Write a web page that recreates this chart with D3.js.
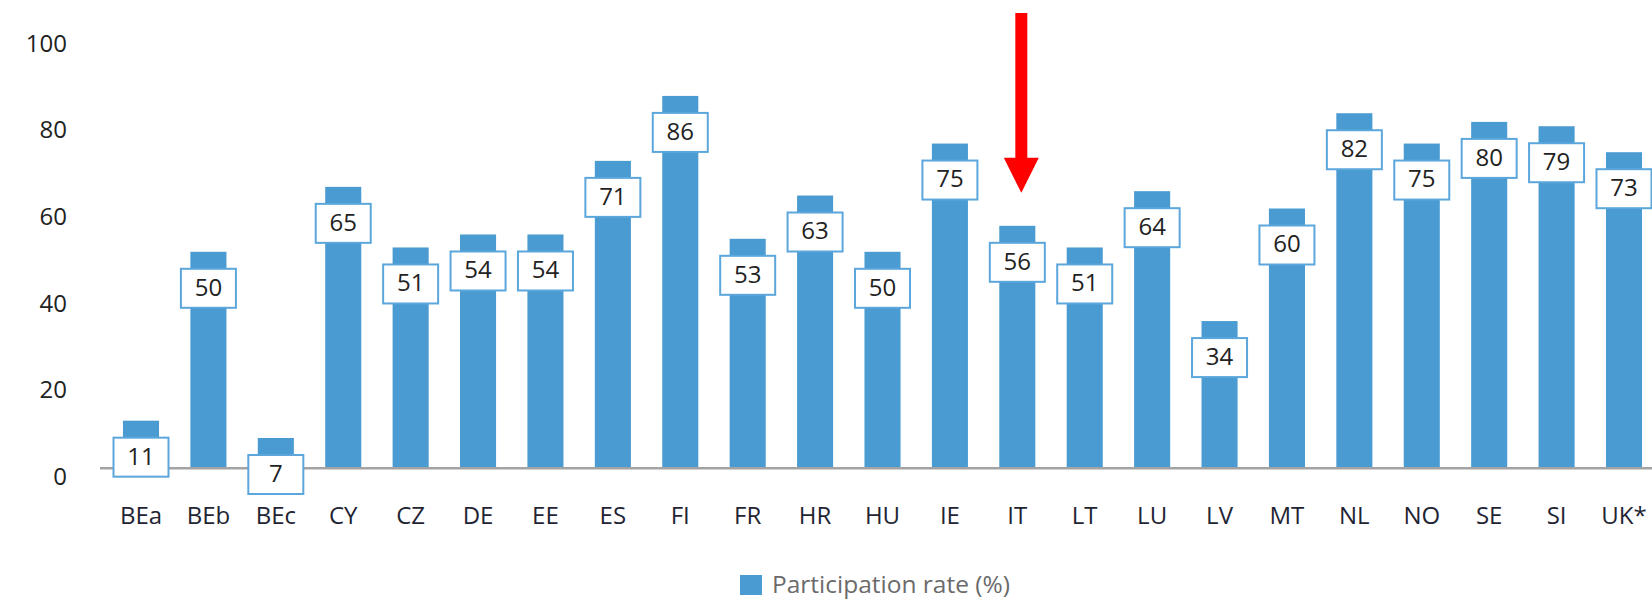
<!DOCTYPE html>
<meta charset="utf-8">
<script src="https://d3js.org/d3.v7.min.js"></script>
<style>
  body { margin: 0; background: #fff; }
  text { font-family: "Open Sans", sans-serif; }
</style>
<div id="chart"></div>
<script>
// data
const countries = ["BEa","BEb","BEc","CY","CZ","DE","EE","ES","FI","FR","HR","HU","IE","IT","LT","LU","LV","MT","NL","NO","SE","SI","UK*"];
const rates = [11, 50, 7, 65, 51, 54, 54, 71, 86, 53, 63, 50, 75, 56, 51, 64, 34, 60, 82, 75, 80, 79, 73];
const yTicks = [0, 20, 40, 60, 80, 100];
const legendLabel = "Participation rate (%)";
const highlighted = "IT";

const width = 1652, height = 601;
const barColor = "#4a9bd1";

const svg = d3.select("#chart").append("svg")
    .attr("width", width)
    .attr("height", height);

const data = countries.map((c, i) => ({country: c, value: rates[i]}));

const x = d3.scaleBand()
    .domain(countries)
    .range([107.3, 1657.7])
    .paddingInner(0.465)
    .paddingOuter(0.2325);

const y = d3.scaleLinear()
    .domain([0, 100])
    .range([468.3, 35.3]);

// y tick labels (no axis line)
svg.append("g")
  .selectAll("text")
  .data(yTicks)
  .join("text")
    .attr("x", 67)
    .attr("y", d => y(d) + 10)
    .attr("dominant-baseline", "middle")
    .attr("text-anchor", "end")
    .style("font-size", "24px")
    .style("fill", "#222")
    .text(d => d);

// bars
svg.append("g")
  .selectAll("rect")
  .data(data)
  .join("rect")
    .attr("x", d => x(d.country))
    .attr("y", d => y(d.value))
    .attr("width", x.bandwidth())
    .attr("height", d => y(0) - y(d.value))
    .attr("fill", barColor);

// baseline
svg.append("line")
    .attr("x1", 100)
    .attr("x2", width)
    .attr("y1", y(0))
    .attr("y2", y(0))
    .attr("stroke", "#a3a3a3")
    .attr("stroke-width", 2.5);

// value boxes
const boxW = 55, boxH = 39;
const labels = svg.append("g")
  .selectAll("g")
  .data(data)
  .join("g")
    .attr("transform", d => `translate(${x(d.country) + x.bandwidth() / 2}, ${y(d.value) + 17})`);

labels.append("rect")
    .attr("x", -boxW / 2)
    .attr("y", 0)
    .attr("width", boxW)
    .attr("height", boxH)
    .attr("fill", "#fff")
    .attr("stroke", "#5ba6db")
    .attr("stroke-width", 2);

labels.append("text")
    .attr("x", 0)
    .attr("y", boxH / 2 + 1)
    .attr("text-anchor", "middle")
    .attr("dominant-baseline", "middle")
    .style("font-size", "24px")
    .style("fill", "#222")
    .text(d => d.value);

// x labels
svg.append("g")
  .selectAll("text")
  .data(countries)
  .join("text")
    .attr("x", d => x(d) + x.bandwidth() / 2)
    .attr("y", 524)
    .attr("text-anchor", "middle")
    .style("font-size", "24px")
    .style("fill", "#1f2433")
    .text(d => d);

// red arrow above the highlighted country
const ax = x(highlighted) + x.bandwidth() / 2 + 4;
const tipY = y(rates[countries.indexOf(highlighted)]) - 33;
svg.append("path")
    .attr("d", `M${ax - 6},13 H${ax + 6} V${tipY - 35} H${ax + 17.5} L${ax},${tipY} L${ax - 17.5},${tipY - 35} H${ax - 6} Z`)
    .attr("fill", "#ff0000");

// legend
const legend = svg.append("g").attr("transform", "translate(740, 575)");
legend.append("rect")
    .attr("width", 22)
    .attr("height", 20)
    .attr("fill", barColor);
legend.append("text")
    .attr("x", 32)
    .attr("y", 18)
    .style("font-size", "24.5px")
    .style("fill", "#6b6b6b")
    .text(legendLabel);
</script>
